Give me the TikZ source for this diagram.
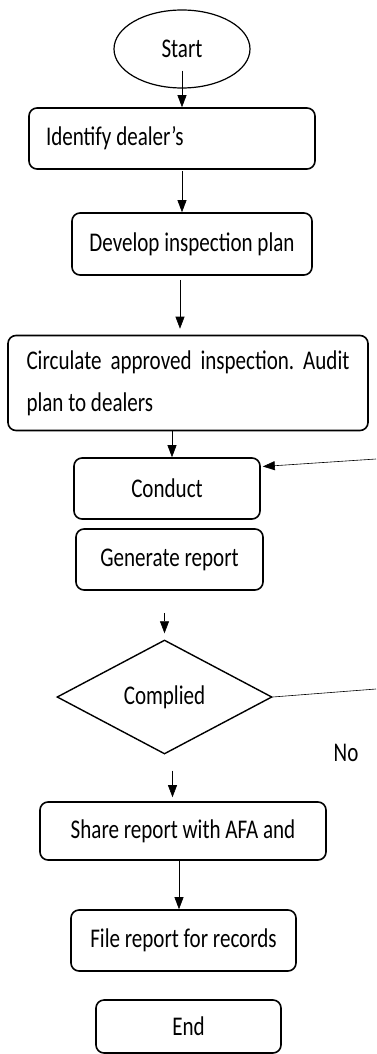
\documentclass[tikz,border=0pt]{standalone}
\usepackage{fontspec}
\setmainfont[FakeStretch=0.78]{Carlito}
\frenchspacing
\usetikzlibrary{shapes.geometric,arrows.meta,calc}
\begin{document}
\begin{tikzpicture}[x=1pt,y=1pt,
  txt/.style={font=\fontsize{27}{42}\selectfont},
  box/.style={txt,draw,rounded corners=8pt,line width=1.6pt,minimum height=61pt,inner sep=0pt},
  arr/.style={-{Triangle[length=12pt,width=9pt]},line width=0.6pt},
  ln/.style={line width=0.6pt}]
\useasboundingbox (0,0) rectangle (376,-1054);
\node[txt,draw,ellipse,line width=1.2pt,minimum width=136pt,minimum height=78pt,inner sep=0pt] (start) at (182,-49) {Start};
\node[box,minimum width=286pt] (identify) at (172,-138.5) {\makebox[252pt][l]{Identify dealer’s}};
\node[box,minimum width=240pt,minimum height=62pt] (develop) at (192,-244) {Develop inspection plan};
\node[box,minimum width=360pt,minimum height=95pt,align=center] (circ) at (188,-383)
  {\makebox[323pt][s]{Circulate approved inspection. Audit}\\\makebox[323pt][l]{plan to dealers}};
\node[box,minimum width=186pt] (conduct) at (167,-488.5) {Conduct};
\node[box,minimum width=187pt] (generate) at (169.5,-559.5) {Generate report};
\node[txt,draw,diamond,minimum width=215pt,minimum height=114pt,inner sep=0pt,line width=1.4pt] (comp) at (164.5,-697) {Complied};
\node[txt,inner sep=0pt] (no) at (346,-753) {No};
\node[box,minimum width=286pt,minimum height=58pt] (share) at (183,-831) {Share report with AFA and};
\node[box,minimum width=225pt] (file) at (183.5,-940.5) {File report for records};
\node[box,minimum width=185pt,minimum height=53pt] (endn) at (188.5,-1026.5) {End};
\coordinate (c1) at (376,-459);
\coordinate (c2) at (376,-689);

\draw[arr] ([yshift=18pt]start.south) -- (start.south |- identify.north);
\draw[arr] ([xshift=10pt,yshift=-1pt]identify.south) -- ([xshift=10pt]identify.south |- develop.north);
\draw[arr] ([xshift=-12pt,yshift=-4pt]develop.south) -- ([xshift=-12pt,yshift=6pt]develop.south |- circ.north);
\draw[arr] ([xshift=-16pt]circ.south) -- ([xshift=-16pt]circ.south |- conduct.north);
\draw[arr] (c1) -- ([xshift=2pt,yshift=22pt]conduct.east);
\draw[arr] ([xshift=-5pt,yshift=-22pt]generate.south) -- ([yshift=6pt]comp.north);
\draw[ln] (comp.east) -- (c2);
\draw[arr] ([xshift=8pt,yshift=-16pt]comp.south) -- ([xshift=8pt,yshift=4pt]comp.south |- share.north);
\draw[arr] ([xshift=-4pt]share.south) -- ([xshift=-4pt]share.south |- file.north);
\end{tikzpicture}
\end{document}
